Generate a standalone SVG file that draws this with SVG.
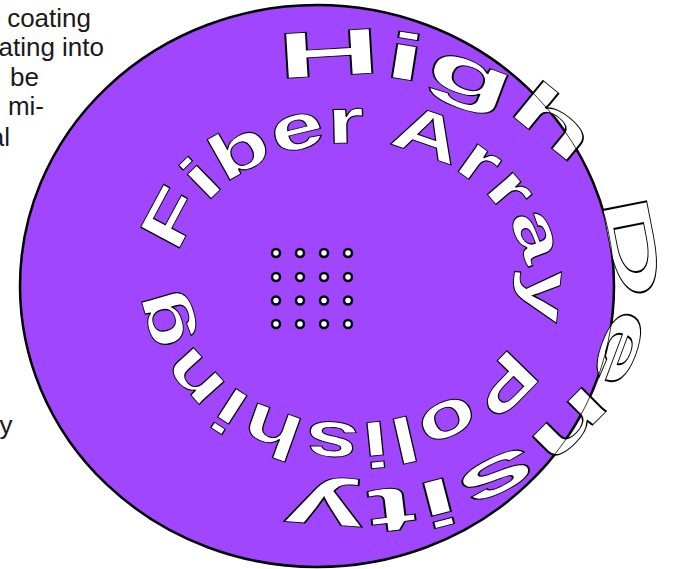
<svg xmlns="http://www.w3.org/2000/svg" xmlns:xlink="http://www.w3.org/1999/xlink" width="673" height="569" viewBox="0 0 673 569">
<style>
.para{font-family:"Liberation Sans",Arial,sans-serif;font-size:26px;fill:#1a1a1a;text-anchor:end}
.arc{font-family:"Liberation Sans",Arial,sans-serif;font-weight:bold;fill:#fff;stroke:#000;stroke-width:0.9}
.dot{fill:#fff;stroke:#000;stroke-width:2.5}
</style>
<defs>
<path id="outerPath" d="M86,283 A264,208 0 1 1 614,283 A264,208 0 1 1 86,283"/>
<path id="innerPath" d="M176,283 A175,140 0 1 1 526,283 A175,140 0 1 1 176,283"/>
</defs>
<g id="paragraph">
<text class="para" x="91" y="27">coating</text>
<text class="para" x="104" y="56">ating into</text>
<text class="para" x="39" y="86">be</text>
<text class="para" x="44" y="115">mi-</text>
<text class="para" x="10" y="146">al</text>
<text class="para" x="12.5" y="434">y</text>
</g>
<g id="disc">
<ellipse cx="317" cy="286" rx="297" ry="281" fill="#a046ff" stroke="#000" stroke-width="2.5"/>
</g>
<g id="fiber-grid">
<circle class="dot" cx="276" cy="253" r="4"/><circle class="dot" cx="300" cy="253" r="4"/><circle class="dot" cx="324" cy="253" r="4"/><circle class="dot" cx="348" cy="253" r="4"/>
<circle class="dot" cx="276" cy="277" r="4"/><circle class="dot" cx="300" cy="277" r="4"/><circle class="dot" cx="324" cy="277" r="4"/><circle class="dot" cx="348" cy="277" r="4"/>
<circle class="dot" cx="276" cy="300.5" r="4"/><circle class="dot" cx="300" cy="300.5" r="4"/><circle class="dot" cx="324" cy="300.5" r="4"/><circle class="dot" cx="348" cy="300.5" r="4"/>
<circle class="dot" cx="276" cy="324" r="4"/><circle class="dot" cx="300" cy="324" r="4"/><circle class="dot" cx="324" cy="324" r="4"/><circle class="dot" cx="348" cy="324" r="4"/>
</g>
<g id="inner-title">
<text class="arc" font-size="64"><textPath xlink:href="#innerPath" href="#innerPath" startOffset="28.5" textLength="961" lengthAdjust="spacingAndGlyphs">Fiber Array Polishing</textPath></text>
</g>
<g id="outer-title">
<text class="arc" font-size="65"><textPath xlink:href="#outerPath" href="#outerPath" startOffset="300" textLength="880" lengthAdjust="spacingAndGlyphs">High Density</textPath></text>
</g>
<g id="disc-edge">
<ellipse cx="317" cy="286" rx="297" ry="281" fill="none" stroke="#000" stroke-width="0.8"/>
</g>
</svg>
